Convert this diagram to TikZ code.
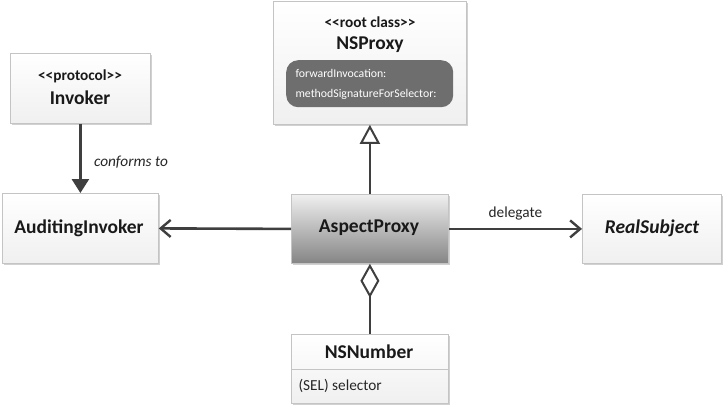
\documentclass[tikz,border=0pt]{standalone}
\usepackage{fontspec}
\setmainfont{Carlito}[Ligatures=ResetAll]
\usetikzlibrary{arrows.meta,shadows,positioning}
\definecolor{edgec}{HTML}{C4C4C4}
\definecolor{linec}{HTML}{3F3F3F}
\definecolor{pillc}{HTML}{6E6E6E}
\tikzset{
  umlbox/.style={draw=edgec, line width=0.8pt, top color=white, bottom color=black!6,
    drop shadow={shadow xshift=1.2pt, shadow yshift=-1.2pt, opacity=0.18, fill=black},
    rectangle, inner sep=0pt, anchor=north west},
  conn/.style={draw=linec, line width=2.6pt},
  openarrow/.style={-{Straight Barb[length=10pt,width=17pt,line width=2.4pt]}},
  titlefont/.style={font=\fontsize{19.5}{22}\selectfont\bfseries, text=black!90},
  stereofont/.style={font=\fontsize{15.3}{17}\selectfont\bfseries, text=black!90},
  smallfont/.style={font=\fontsize{15.3}{18}\selectfont, text=black!85},
}
\begin{document}
\begin{tikzpicture}[x=1pt,y=-1pt]
\useasboundingbox (0,0) rectangle (725,408);
\fill[white] (0,0) rectangle (725,408);
% NSProxy
\node[umlbox, minimum width=193pt, minimum height=123pt] (nsproxy) at (273,1) {};
\node[stereofont] (nsproxyst) at (370,22) {<\kern0pt<root class>\kern0pt>};
\node[titlefont] (nsproxyt) at (370,45) {NSProxy};
\node[draw=none, fill=pillc, rounded corners=12pt, minimum width=167pt, minimum height=47pt, anchor=north west] (pill) at (286,60) {};
\node[font=\fontsize{11.8}{14}\selectfont, text=white, anchor=west] (m1) at (292,73) {forwardInvocation:};
\node[font=\fontsize{11.8}{14}\selectfont, text=white, anchor=west] (m2) at (292,94) {methodSignatureForSelector:};
% Invoker
\node[umlbox, minimum width=140pt, minimum height=70pt] (invoker) at (10,53) {};
\node[stereofont] (invst) at (80,76) {<\kern0pt<protocol>\kern0pt>};
\node[titlefont] (invt) at (80,98) {Invoker};
% AuditingInvoker
\node[umlbox, minimum width=156pt, minimum height=70pt] (audit) at (2,193) {};
\node[titlefont] (auditt) at (79,228) {AuditingInvoker};
% AspectProxy
\node[draw=edgec, line width=0.8pt, top color=black!6, bottom color=black!48,
    drop shadow={shadow xshift=1.2pt, shadow yshift=-1.2pt, opacity=0.18, fill=black},
    minimum width=157pt, minimum height=69pt, anchor=north west, inner sep=0pt] (aspect) at (291,194) {};
\node[titlefont] (aspectt) at (369,228) {AspectProxy};
% RealSubject
\node[umlbox, minimum width=139pt, minimum height=69pt] (real) at (582,194) {};
\node[titlefont, font=\fontsize{19.5}{22}\selectfont\bfseries\itshape] (realt) at (652,228) {RealSubject};
% NSNumber
\node[umlbox, minimum width=157pt, minimum height=69pt] (nsnum) at (291,334) {};
\node[titlefont] (nsnumt) at (369,352) {NSNumber};
\coordinate (divl) at (291,369);
\coordinate (divr) at (448,369);
\draw[edgec, line width=0.8pt] (divl) -- (divr);
\node[smallfont, anchor=west] (sel) at (295,386) {(SEL) selector};
% connectors
\draw[conn, openarrow] (aspect.west) -- (audit.east);
\draw[conn, openarrow] (aspect.east) -- node[above=4pt, smallfont] (dlg) {delegate} (real.west);
\draw[conn, -{Triangle[open, length=19pt, width=20pt, line width=2pt]}] (aspect.north) -- (nsproxy.south -| aspect.north);
\draw[conn, {Diamond[open, length=34pt, width=19pt, line width=2pt]}-] (aspect.south) -- (nsnum.north);
\draw[conn, -{Triangle[length=14pt, width=17pt]}] (invoker.south) -- node[right=9pt, pos=0.55, font=\fontsize{15.3}{18}\selectfont\itshape, text=black!85] (conf) {conforms to} (audit.north -| invoker.south);
\end{tikzpicture}
\end{document}
